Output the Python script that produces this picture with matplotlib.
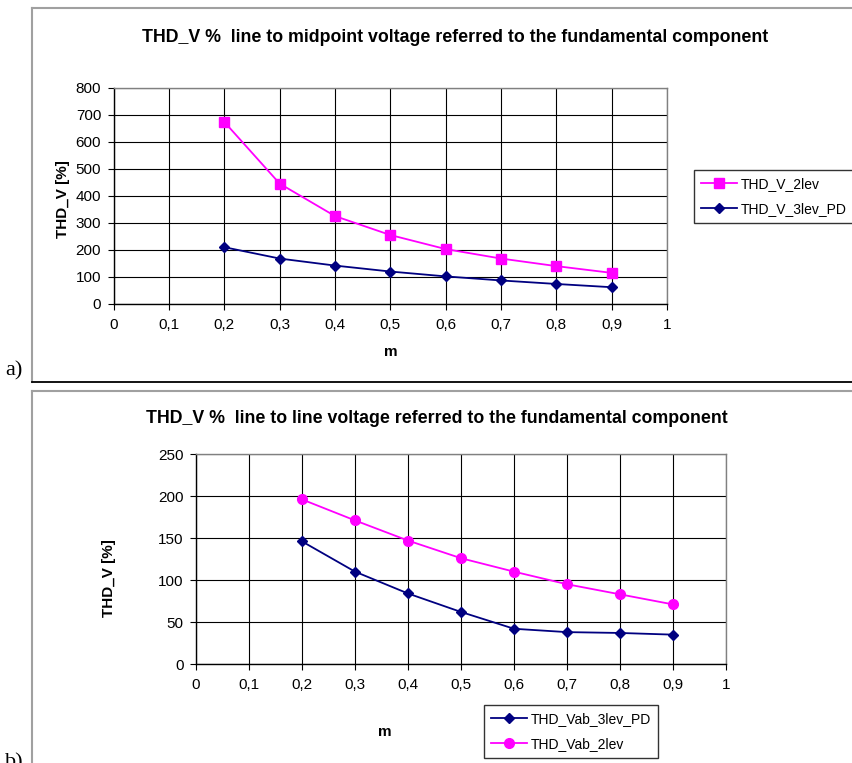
import matplotlib
matplotlib.use('Agg')
import matplotlib.pyplot as plt
from matplotlib.lines import Line2D

plt.rcParams['font.family'] = ['Liberation Sans', 'DejaVu Sans']

# data
m = [0.2, 0.3, 0.4, 0.5, 0.6, 0.7, 0.8, 0.9]
xticks = [0, 0.1, 0.2, 0.3, 0.4, 0.5, 0.6, 0.7, 0.8, 0.9, 1]
xtick_labels = ['0', '0,1', '0,2', '0,3', '0,4', '0,5', '0,6', '0,7', '0,8', '0,9', '1']

# panel a) line to midpoint
thd_v_2lev = [673, 445, 325, 255, 203, 168, 140, 115]
thd_v_3lev_pd = [210, 168, 142, 120, 102, 87, 74, 62]
yticks_a = [0, 100, 200, 300, 400, 500, 600, 700, 800]

# panel b) line to line
thd_vab_3lev_pd = [146, 110, 84, 62, 42, 38, 37, 35]
thd_vab_2lev = [196, 171, 147, 126, 110, 95, 83, 71]
yticks_b = [0, 50, 100, 150, 200, 250]

title_a = 'THD_V %  line to midpoint voltage referred to the fundamental component'
title_b = 'THD_V %  line to line voltage referred to the fundamental component'

MAG = '#ff00ff'
NAVY = '#000080'

fig = plt.figure(figsize=(8.53, 7.63), dpi=100)


def style_axes(ax, yticks):
    ax.set_xlim(0, 1)
    ax.set_ylim(yticks[0], yticks[-1])
    ax.set_xticks(xticks)
    ax.set_xticklabels(xtick_labels)
    ax.set_yticks(yticks)
    ax.grid(True, color='#000000', linewidth=0.8)
    ax.set_axisbelow(True)
    for s in ax.spines.values():
        s.set_color('#808080')
        s.set_linewidth(1.0)
    ax.spines['left'].set_color('#000000')
    ax.spines['bottom'].set_color('#000000')
    ax.tick_params(direction='out', length=4, width=0.8, labelsize=11, pad=5)
    ax.tick_params(axis='x', pad=6)


# ---- panel a
ax1 = fig.add_axes([0.1333, 0.6016, 0.6487, 0.2835])
ax1.plot(m, thd_v_2lev, color=MAG, marker='s', markersize=7, linewidth=1.3, label='THD_V_2lev')
ax1.plot(m, thd_v_3lev_pd, color=NAVY, marker='D', markersize=5, linewidth=1.3, label='THD_V_3lev_PD')
style_axes(ax1, yticks_a)
ax1.set_ylabel('THD_V [%]', fontsize=11, fontweight='bold')
ax1.yaxis.set_label_coords(-0.079, 0.486)
ax1.set_xlabel('m', fontsize=11, fontweight='bold')
ax1.xaxis.set_label_coords(0.5, -0.19)
fig.text(0.533, 0.951, title_a, ha='center', va='center', fontsize=12.8, fontweight='bold')
fig.legend(handles=ax1.get_lines(), loc='upper left', bbox_to_anchor=(0.8136, 0.7772),
           fontsize=10, frameon=True, fancybox=False, edgecolor='#000000',
           handlelength=2.6, borderpad=0.5, labelspacing=0.8, handletextpad=0.3, borderaxespad=0)

# ---- panel b
ax2 = fig.add_axes([0.2298, 0.1297, 0.6213, 0.2752])
l3 = ax2.plot(m, thd_vab_3lev_pd, color=NAVY, marker='D', markersize=5, linewidth=1.3, label='THD_Vab_3lev_PD')
l2 = ax2.plot(m, thd_vab_2lev, color=MAG, marker='o', markersize=7, linewidth=1.3, label='THD_Vab_2lev')
style_axes(ax2, yticks_b)
ax2.set_ylabel('THD_V [%]', fontsize=11, fontweight='bold')
ax2.yaxis.set_label_coords(-0.151, 0.41)
ax2.set_xlabel('m', fontsize=11, fontweight='bold')
ax2.xaxis.set_label_coords(0.357, -0.29)
fig.text(0.512, 0.451, title_b, ha='center', va='center', fontsize=12.8, fontweight='bold')
fig.legend(handles=[l3[0], l2[0]], loc='upper left', bbox_to_anchor=(0.5674, 0.076),
           fontsize=10, frameon=True, fancybox=False, edgecolor='#000000',
           handlelength=2.6, borderpad=0.5, labelspacing=0.8, handletextpad=0.3, borderaxespad=0)

# ---- panel frames and labels
gray = '#a0a0a0'
fig.add_artist(Line2D([0.0375, 1.0], [0.9895, 0.9895], color=gray, linewidth=1.5))
fig.add_artist(Line2D([0.0375, 0.0375], [0.9895, 0.4993], color=gray, linewidth=1.5))
fig.add_artist(Line2D([0.0375, 1.0], [0.4993, 0.4993], color='black', linewidth=1.3))
fig.add_artist(Line2D([0.0375, 1.0], [0.4875, 0.4875], color=gray, linewidth=1.5))
fig.add_artist(Line2D([0.0375, 0.0375], [0.4875, 0.0], color=gray, linewidth=1.5))
fig.text(0.006, 0.501, 'a)', ha='left', va='bottom', fontsize=16, family='Liberation Serif')
fig.text(0.006, 0.0, 'b)', ha='left', va='center', fontsize=16, family='Liberation Serif')

fig.savefig('out.png', dpi=100)
